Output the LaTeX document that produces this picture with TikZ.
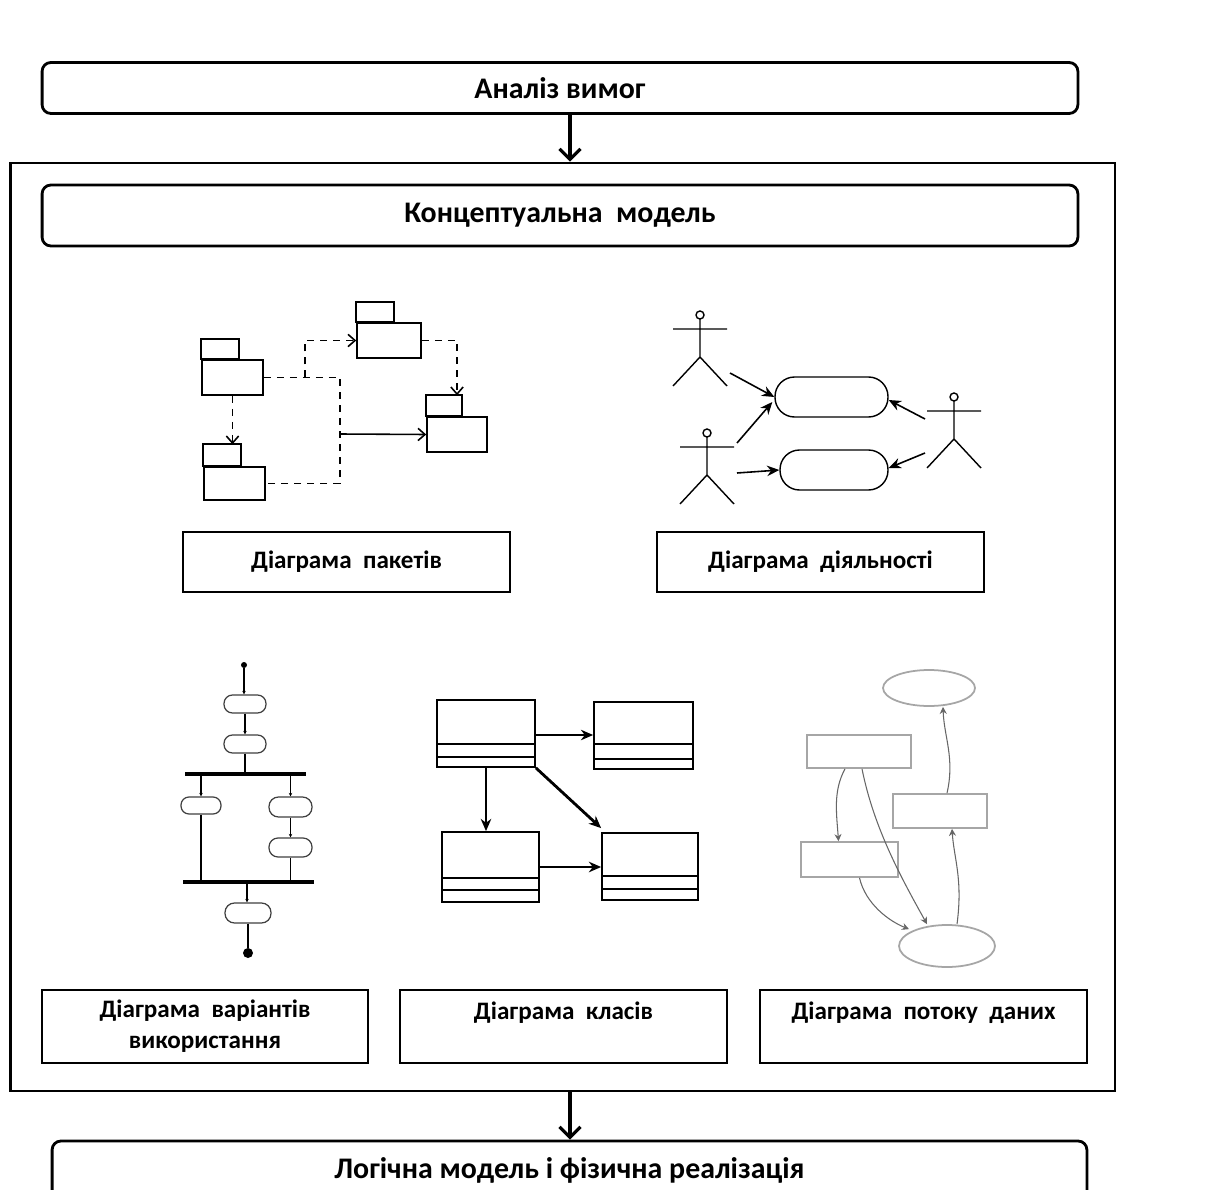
\documentclass[tikz,border=0pt]{standalone}
\usepackage{fontspec}
\setmainfont{Carlito}
\usetikzlibrary{arrows.meta,shapes.geometric}

\tikzset{
  headbox/.style={draw,line width=1.6pt,rounded corners=5pt,minimum width=20.72cm,inner sep=0pt,font=\bfseries\fontsize{17}{20}\selectfont},
  diabox/.style={draw,line width=1.6pt,minimum width=6.54cm,minimum height=1.2cm,inner sep=0pt,align=center,font=\bfseries\fontsize{14.3}{17.5}\selectfont},
  flow/.style={line width=1.8pt,-{Straight Barb[length=6pt,width=12pt,line width=1.8pt]}},
  pkg/.style={draw,line width=0.9pt,inner sep=0pt},
  dep/.style={line width=0.9pt,dash pattern=on 4pt off 3.4pt},
  barb/.style={-{Straight Barb[length=4pt,width=7pt,line width=0.9pt]}},
  usecase/.style={draw,line width=0.8pt,rounded corners=0.39cm,minimum height=0.8cm,inner sep=0pt},
  uarr/.style={line width=0.9pt,-{Stealth[length=7pt,width=6pt]}},
  act/.style={draw,gray!50!black,line width=0.7pt,inner sep=0pt},
  actline/.style={line width=0.6pt,-{Stealth[length=2pt,width=2pt]}},
  bar/.style={fill=black,inner sep=0pt,minimum height=0.08cm},
  cls/.style={draw,line width=1pt,inner sep=0pt},
  carr/.style={-{Stealth[length=7pt,width=6pt]}},
  dfbox/.style={draw,gray!70,line width=1pt,inner sep=0pt},
  dfarr/.style={gray!80!black,line width=0.6pt,-{Stealth[length=4pt,width=4pt]}},
  stickman/.pic={
    \draw[line width=0.8pt] (0,0) circle[radius=4];
    \draw[line width=0.8pt] (0,4) -- (0,42) (-27,14) -- (27,14) (-27,71) -- (0,42) -- (27,71);
  }
}

\begin{document}
\begin{tikzpicture}[x=0.02cm,y=-0.02cm]
\useasboundingbox (0,0) rectangle (1216,1189);
\clip (0,0) rectangle (1216,1189);
\fill[white] (0,0) rectangle (1216,1189);

% main flow
\node[headbox,minimum height=1.02cm] (analiz) at (560,88) {Аналіз вимог};
\node[draw,line width=1.6pt,minimum width=22.1cm,minimum height=18.56cm,inner sep=0pt] (frame) at (562.5,627) {};
\node[headbox,minimum height=1.22cm] (konc) at (560,215.5) {Концептуальна \ модель};
\node[headbox,minimum width=20.7cm,minimum height=1.16cm] (logic) at (569.5,1170) {Логічна модель і фізична реалізація};
\draw[flow] ([xshift=0.2cm]analiz.south) -- ([xshift=0.2cm]analiz.south |- frame.north);
\draw[flow] ([xshift=0.15cm]frame.south) -- ([xshift=0.15cm]frame.south |- logic.north);

% labels of the diagrams
\node[diabox] (paket) at (346.5,562) {Діаграма \ пакетів};
\node[diabox] (diyal) at (820.5,562) {Діаграма \ діяльності};
\node[diabox,minimum width=6.52cm,minimum height=1.46cm] (varian) at (205,1026.5) {Діаграма \ варіантів\\використання};
\node[diabox,minimum width=6.54cm,minimum height=1.46cm] (klas) at (563.5,1026.5) {Діаграма \ класів\\\mbox{}};
\node[diabox,minimum width=6.54cm,minimum height=1.46cm] (potik) at (923.5,1026.5) {Діаграма \ потоку \ даних\\\mbox{}};

% packages
\node[pkg,minimum width=1.22cm,minimum height=0.7cm] (pk1) at (232.5,377.5) {};
\draw[line width=0.9pt] (pk1.north west) rectangle ++(38,-20);
\node[pkg,minimum width=1.28cm,minimum height=0.7cm] (pk2) at (389,340.5) {};
\draw[line width=0.9pt] (pk2.north west) rectangle ++(38,-20);
\node[pkg,minimum width=1.2cm,minimum height=0.7cm] (pk3) at (457,434.5) {};
\draw[line width=0.9pt] (pk3.north west) rectangle ++(36,-21);
\node[pkg,minimum width=1.22cm,minimum height=0.66cm] (pk4) at (234.5,483.5) {};
\draw[line width=0.9pt] (pk4.north west) rectangle ++(38,-22);
\coordinate (jn) at (340,434);
\coordinate (br) at (305,377.5);
\draw[dep] (pk1.east) -| (jn) |- (pk4.east);
\draw[dep,barb] (br) |- (pk2.west);
\draw[dep,barb] (pk2.east) -| ([yshift=0.42cm]pk3.north);
\draw[dep,barb] (pk1.south) -- ([yshift=0.44cm]pk4.north -| pk1.south);
\draw[line width=0.9pt,barb] (jn) -- (pk3.west);

% actors and use cases
\coordinate (ac1) at (700,315);
\coordinate (ac2) at (707,433);
\coordinate (ac3) at (954,397);
\pic at (ac1) {stickman};
\pic at (ac2) {stickman};
\pic at (ac3) {stickman};
\node[usecase,minimum width=2.26cm] (uc1) at (831.5,397) {};
\node[usecase,minimum width=2.16cm] (uc2) at (834,470) {};
\draw[uarr] ([shift={(30,58)}]ac1) -- (uc1.west);
\draw[uarr] ([shift={(30,10)}]ac2) -- ([shift={(-2,5)}]uc1.west);
\draw[uarr] ([shift={(30,40)}]ac2) -- (uc2.west);
\draw[uarr] ([shift={(-29,22)}]ac3) -- ([shift={(0,3)}]uc1.east);
\draw[uarr] ([shift={(-29,56)}]ac3) -- ([shift={(0,-2)}]uc2.east);

% activities
\node[circle,fill=black,inner sep=0pt,minimum size=0.12cm] (st) at (244,665) {};
\node[act,rounded corners=0.17cm,minimum width=0.84cm,minimum height=0.36cm] (act1) at (245,704) {};
\node[act,rounded corners=0.17cm,minimum width=0.84cm,minimum height=0.36cm] (act2) at (245,744) {};
\node[bar,minimum width=2.42cm] (bar1) at (245.5,774) {};
\node[act,rounded corners=0.16cm,minimum width=0.8cm,minimum height=0.34cm] (act3) at (201,805.5) {};
\node[act,rounded corners=0.19cm,minimum width=0.86cm,minimum height=0.4cm] (act4) at (290.5,807) {};
\node[act,rounded corners=0.18cm,minimum width=0.86cm,minimum height=0.38cm] (act5) at (290.5,847.5) {};
\node[bar,minimum width=2.62cm] (bar2) at (248.5,882) {};
\node[act,rounded corners=0.19cm,minimum width=0.92cm,minimum height=0.4cm] (act6) at (248,913) {};
\node[circle,fill=black,inner sep=0pt,minimum size=0.2cm] (fin) at (248,953) {};
\draw[actline] (st) -- (st |- act1.north);
\draw[actline] (act1) -- (act1 |- act2.north);
\draw[line width=0.6pt] (act2.south) -- (act2.south |- bar1.north);
\draw[actline] (act3.north |- bar1.south) -- (act3.north);
\draw[line width=0.6pt] (act3.south) -- (act3.south |- bar2.north);
\draw[actline] (act4.north |- bar1.south) -- (act4.north);
\draw[actline] (act4) -- (act4 |- act5.north);
\draw[line width=0.6pt] (act5.south) -- (act5.south |- bar2.north);
\draw[actline] ([xshift=-0.02cm]act6.north |- bar2.south) -- ([xshift=-0.02cm]act6.north);
\draw[line width=0.9pt] (act6.south) -- (fin);

% classes
\node[cls,minimum width=1.96cm,minimum height=1.34cm] (cl1) at (486,733.5) {};
\draw[line width=1pt] ([yshift=0.48cm]cl1.south west) -- ([yshift=0.48cm]cl1.south east);
\draw[line width=1pt] ([yshift=0.22cm]cl1.south west) -- ([yshift=0.22cm]cl1.south east);
\node[cls,minimum width=1.98cm,minimum height=1.34cm] (cl2) at (643.5,735.5) {};
\draw[line width=1pt] ([yshift=0.52cm]cl2.south west) -- ([yshift=0.52cm]cl2.south east);
\draw[line width=1pt] ([yshift=0.22cm]cl2.south west) -- ([yshift=0.22cm]cl2.south east);
\node[cls,minimum width=1.94cm,minimum height=1.4cm] (cl3) at (490.5,867) {};
\draw[line width=1pt] ([yshift=0.5cm]cl3.south west) -- ([yshift=0.5cm]cl3.south east);
\draw[line width=1pt] ([yshift=0.26cm]cl3.south west) -- ([yshift=0.26cm]cl3.south east);
\node[cls,minimum width=1.92cm,minimum height=1.34cm] (cl4) at (650,866.5) {};
\draw[line width=1pt] ([yshift=0.5cm]cl4.south west) -- ([yshift=0.5cm]cl4.south east);
\draw[line width=1pt] ([yshift=0.24cm]cl4.south west) -- ([yshift=0.24cm]cl4.south east);
\draw[carr,line width=0.7pt] ([yshift=-0.03cm]cl1.east) -- ([yshift=-0.03cm]cl1.east -| cl2.west);
\draw[carr,line width=0.9pt] (cl1.south) -- (cl1.south |- cl3.north);
\draw[carr,line width=1.6pt] (cl1.south east) -- ([yshift=0.08cm]cl4.north west);
\draw[carr,line width=1.4pt] (cl3.east) -- (cl3.east -| cl4.west);

% data flow
\node[dfbox,ellipse,minimum width=1.84cm,minimum height=0.72cm] (el1) at (929,688) {};
\node[dfbox,minimum width=2.08cm,minimum height=0.66cm] (rc1) at (859,751.5) {};
\node[dfbox,minimum width=1.88cm,minimum height=0.68cm] (rc2) at (940,811) {};
\node[dfbox,minimum width=1.94cm,minimum height=0.7cm] (rc3) at (849.5,859.5) {};
\node[dfbox,ellipse,minimum width=1.92cm,minimum height=0.84cm] (el2) at (947,946) {};
\draw[dfarr] ([shift={(-14,0)}]rc1.south) .. controls +(-12,22) and +(-2,-28) .. ([shift={(-11,0)}]rc3.north);
\draw[dfarr] ([shift={(3,0)}]rc1.south) .. controls +(12,60) and +(-25,-45) .. ([shift={(-20,0)}]el2.north);
\draw[dfarr] ([shift={(10,0)}]rc3.south) .. controls +(6,26) and +(-20,-8) .. ([shift={(-38,5)}]el2.north);
\draw[dfarr] ([shift={(10,0)}]el2.north) .. controls +(6,-45) and +(2,30) .. ([shift={(12,0)}]rc2.south);
\draw[dfarr] ([shift={(7,0)}]rc2.north) .. controls +(8,-35) and +(1,30) .. ([shift={(14,0)}]el1.south);
\end{tikzpicture}
\end{document}
